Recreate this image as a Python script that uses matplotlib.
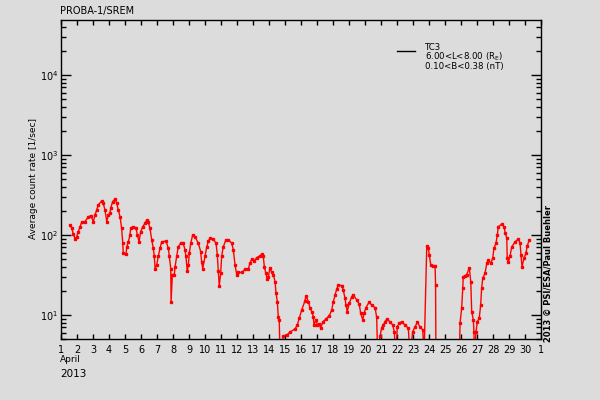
import numpy as np
import matplotlib
matplotlib.use("Agg")
import matplotlib.pyplot as plt
from matplotlib.ticker import LogLocator, FixedLocator

# day of April 2013 (fractional) and TC3 average count rate [1/sec]
days = [1.56, 1.67, 1.77, 1.88, 1.98, 2.08, 2.19, 2.29, 2.50, 2.71, 2.86, 3.02, 3.13, 3.23, 3.33,
        3.54, 3.64, 3.75, 3.86, 3.96, 4.06, 4.11, 4.23, 4.38, 4.48, 4.58, 4.69, 4.79, 4.86, 4.89,
        5.06, 5.11, 5.21, 5.31, 5.36, 5.52, 5.69, 5.77, 5.88, 5.98, 6.11, 6.25, 6.36, 6.46, 6.56,
        6.67, 6.77, 6.83, 6.88, 6.98, 7.08, 7.19, 7.29, 7.56, 7.71, 7.77, 7.86, 7.88, 7.96, 8.08,
        8.13, 8.23, 8.33, 8.48, 8.64, 8.75, 8.81, 8.89, 8.96, 9.02, 9.11, 9.23, 9.38, 9.58, 9.73,
        9.79, 9.86, 10.00, 10.11, 10.21, 10.31, 10.52, 10.69, 10.77, 10.83, 10.89, 10.98, 11.04, 11.14, 11.31,
        11.46, 11.67, 11.77, 11.88, 11.98, 12.08, 12.29, 12.50, 12.71, 12.81, 12.92, 13.06, 13.23, 13.44, 13.54,
        13.64, 13.71, 13.81, 13.89, 13.96, 14.06, 14.17, 14.27, 14.38, 14.44, 14.52, 14.58, 14.64, 14.69, 14.89,
        15.11, 15.31, 15.63, 15.77, 15.89, 16.04, 16.25, 16.31, 16.46, 16.56, 16.67, 16.77, 16.81, 16.94, 17.02,
        17.14, 17.23, 17.36, 17.56, 17.77, 17.92, 18.02, 18.13, 18.23, 18.33, 18.54, 18.64, 18.75, 18.81, 18.89,
        19.02, 19.17, 19.27, 19.48, 19.64, 19.73, 19.86, 19.94, 20.06, 20.25, 20.42, 20.63, 20.73, 20.79, 20.94,
        21.04, 21.14, 21.25, 21.36, 21.56, 21.73, 21.83, 21.92, 22.02, 22.14, 22.29, 22.50, 22.71, 22.81, 22.98,
        23.13, 23.27, 23.44, 23.61, 23.69, 23.86, 23.96, 24.02, 24.11, 24.27, 24.38, 24.41, 24.44, 25.89, 25.94,
        26.04, 26.11, 26.14, 26.25, 26.36, 26.52, 26.61, 26.67, 26.77, 26.81, 26.83, 26.94, 27.02, 27.14, 27.23,
        27.29, 27.36, 27.50, 27.61, 27.71, 27.86, 27.98, 28.06, 28.19, 28.27, 28.33, 28.54, 28.69, 28.77, 28.86,
        28.89, 28.96, 29.06, 29.17, 29.38, 29.58, 29.69, 29.75, 29.81, 29.94, 30.06, 30.14, 30.27]
rates = [133, 121, 103, 89, 95, 110, 127, 144, 147, 169, 174, 147, 178, 205, 237,
         266, 249, 205, 147, 178, 187, 218, 261, 282, 249, 205, 169, 121, 79, 59,
         57, 71, 82, 100, 123, 126, 123, 100, 82, 110, 127, 140, 154, 144, 121,
         87, 68, 54, 38, 42, 54, 68, 82, 84, 68, 54, 38, 14.4, 32, 32,
         40, 54, 71, 79, 79, 65, 54, 35, 42, 59, 79, 100, 95, 79, 62,
         46, 38, 54, 71, 84, 91, 88, 79, 56, 35, 23, 33, 54, 71, 87,
         87, 79, 65, 42, 32, 34, 34, 37, 38, 44, 50, 47, 52, 55, 57,
         54, 40, 33, 28, 30, 39, 34, 32, 26, 18.7, 14.7, 9.5, 8.7, 3, 5.4,
         5.6, 6.1, 6.7, 7.5, 9.1, 11.5, 15, 17.4, 14.7, 12.3, 11, 9.5, 7.5, 8.7, 7.5,
         7.7, 6.8, 8.2, 8.9, 9.8, 11.5, 14.7, 17.8, 21, 23.7, 23.3, 20.5, 16.2, 13.3, 11,
         14, 16.9, 17.8, 15.4, 13.6, 10.5, 8.7, 10.5, 12.3, 14.4, 13.3, 12.3, 9.3, 3, 5.4,
         6.9, 7.5, 8.2, 8.9, 8.2, 7.5, 6.2, 3, 7.1, 7.9, 8.2, 7.5, 6.8, 3, 6.2,
         7.1, 8.1, 7.1, 6.5, 3, 73, 68, 56, 42, 41, 41, 23.7, 2, 2, 7.9,
         12.1, 21.6, 30, 31, 32, 39, 26, 11, 8.7, 6.2, 3, 6.2, 8.2, 9.1, 13.3,
         21.6, 28.8, 33, 44, 49, 44, 51, 68, 79, 100, 127, 136, 127, 105, 91,
         51, 46, 54, 71, 82, 89, 79, 56, 40, 51, 59, 73, 87]

tick_days = list(range(1, 32))
tick_labels = [str(d) for d in range(1, 31)] + ["1"]

bg = "#dcdcdc"
fs = 6.5
fig = plt.figure(figsize=(6, 4), dpi=100, facecolor=bg)
ax = fig.add_axes([61 / 600, 61 / 400, 480 / 600, 319 / 400], facecolor=bg)

ax.plot(days, rates, color="#ff0000", lw=1.0, marker="s", ms=1.8, mec="#ff0000", mfc="#ff0000")

ax.set_yscale("log")
ax.set_ylim(5.0, 48700)
ax.set_xlim(1, 31)
ax.xaxis.set_major_locator(FixedLocator(tick_days))
ax.set_xticklabels(tick_labels)
ax.yaxis.set_major_locator(LogLocator(base=10, numticks=10))
ax.yaxis.set_minor_locator(LogLocator(base=10, subs=np.arange(2, 10), numticks=20))
ax.yaxis.set_minor_formatter(plt.NullFormatter())

ax.tick_params(axis="x", which="major", direction="in", top=True, length=3.6, width=1,
               labelsize=fs + 0.5, pad=4)
ax.tick_params(axis="y", which="major", direction="in", right=True, length=7.2, width=1,
               labelsize=fs + 0.5, pad=2)
ax.tick_params(axis="y", which="minor", direction="in", right=True, length=3.6, width=1)
for s in ax.spines.values():
    s.set_linewidth(1.0)

fig.text(60 / 600, 1 - 14 / 400, "PROBA-1/SREM", fontsize=fs + 0.5, va="baseline", ha="left")
fig.text(60 / 600, 1 - 362 / 400, "April", fontsize=fs, va="baseline", ha="left")
fig.text(60 / 600, 1 - 377 / 400, "2013", fontsize=fs + 1, va="baseline", ha="left")
fig.text(33 / 600, 1 - 178 / 400, "Average count rate [1/sec]", fontsize=fs,
         rotation=90, va="center", ha="center")
fig.text(548 / 600, 1 - 274 / 400, "2013 \u00a9 PSI/ESA/Paul Buehler", fontsize=fs - 0.5,
         rotation=90, va="center", ha="center", fontweight="bold")

# legend
fig.add_artist(plt.Line2D([397 / 600, 415 / 600], [1 - 51 / 400, 1 - 51 / 400],
                          color="black", lw=1, transform=fig.transFigure))
fig.text(425 / 600, 1 - 50 / 400, "TC3", fontsize=fs - 0.3, va="baseline")
fig.text(425 / 600, 1 - 59.5 / 400, "6.00<L<8.00 (R$_\\mathrm{E}$)", fontsize=fs - 0.3, va="baseline")
fig.text(425 / 600, 1 - 69 / 400, "0.10<B<0.38 (nT)", fontsize=fs - 0.3, va="baseline")

fig.savefig("out.png", dpi=100, facecolor=bg)
